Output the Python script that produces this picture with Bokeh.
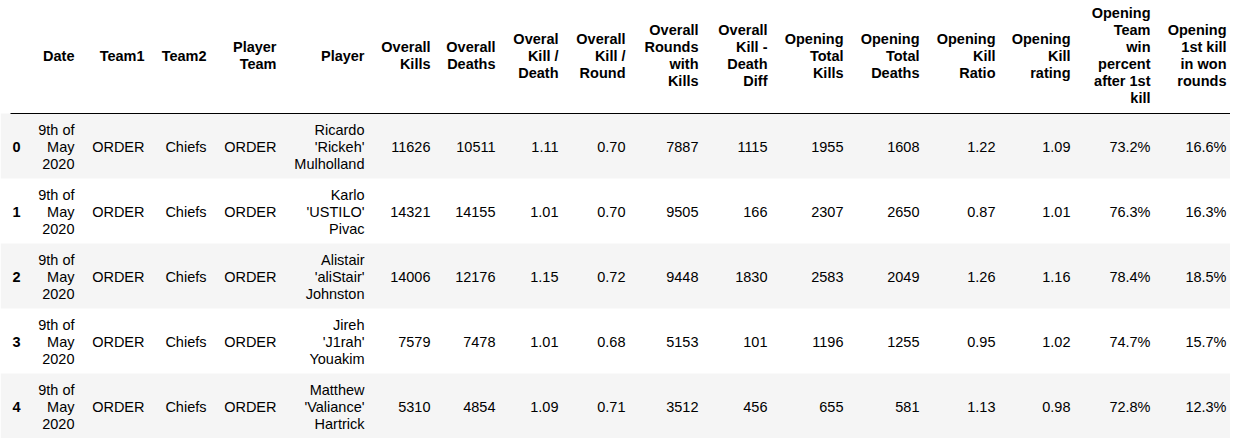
from bokeh.plotting import figure
from bokeh.models import Range1d
from bokeh.core.properties import value
from bokeh.embed import file_html
from bokeh.resources import INLINE

headers = ["Date", "Team1", "Team2", "Player\nTeam", "Player", "Overall\nKills", "Overall\nDeaths",
           "Overal\nKill /\nDeath", "Overall\nKill /\nRound", "Overall\nRounds\nwith\nKills",
           "Overall\nKill -\nDeath\nDiff", "Opening\nTotal\nKills", "Opening\nTotal\nDeaths",
           "Opening\nKill\nRatio", "Opening\nKill\nrating", "Opening\nTeam\nwin\npercent\nafter 1st\nkill",
           "Opening\n1st kill\nin won\nrounds"]

index = ["0", "1", "2", "3", "4"]
date = ["9th of\nMay\n2020"] * 5
team1 = ["ORDER"] * 5
team2 = ["Chiefs"] * 5
player_team = ["ORDER"] * 5
player = ["Ricardo\n'Rickeh'\nMulholland", "Karlo\n'USTILO'\nPivac", "Alistair\n'aliStair'\nJohnston",
          "Jireh\n'J1rah'\nYouakim", "Matthew\n'Valiance'\nHartrick"]
overall_kills = ["11626", "14321", "14006", "7579", "5310"]
overall_deaths = ["10511", "14155", "12176", "7478", "4854"]
kill_death = ["1.11", "1.01", "1.15", "1.01", "1.09"]
kill_round = ["0.70", "0.70", "0.72", "0.68", "0.71"]
rounds_with_kills = ["7887", "9505", "9448", "5153", "3512"]
kd_diff = ["1115", "166", "1830", "101", "456"]
opening_kills = ["1955", "2307", "2583", "1196", "655"]
opening_deaths = ["1608", "2650", "2049", "1255", "581"]
opening_ratio = ["1.22", "0.87", "1.26", "0.95", "1.13"]
opening_rating = ["1.09", "1.01", "1.16", "1.02", "0.98"]
win_percent = ["73.2%", "76.3%", "78.4%", "74.7%", "72.8%"]
first_kill_won = ["16.6%", "16.3%", "18.5%", "15.7%", "12.3%"]

columns = [date, team1, team2, player_team, player, overall_kills, overall_deaths, kill_death,
           kill_round, rounds_with_kills, kd_diff, opening_kills, opening_deaths, opening_ratio,
           opening_rating, win_percent, first_kill_won]

# right edges of the columns, in page pixels
col_right = [74, 144, 206, 276, 364, 430, 495, 558, 625, 698, 767, 843, 919, 995, 1070, 1150, 1226]

W, H = 1230, 438
LINE = 17
HEADER_MID = 55
ROW_TOP = 113
ROW_H = 65

p = figure(width=W, height=H, output_backend="svg", toolbar_location=None,
           x_range=Range1d(0, W), y_range=Range1d(H, 0),
           x_axis_location=None, y_axis_location=None, min_border=0)
p.grid.grid_line_color = None
p.outline_line_color = None
p.background_fill_color = "white"

# striped row backgrounds
for i in range(len(index)):
    if i % 2 == 0:
        top = ROW_TOP + i * ROW_H
        p.quad(left=0, right=W, top=top, bottom=top + ROW_H,
               fill_color="#f5f5f5", line_color=None)

p.segment(x0=[10], y0=[ROW_TOP], x1=[W], y1=[ROW_TOP], line_color="black", line_width=1)


def lines_for(text, xr, ymid):
    parts = text.split("\n")
    y0 = ymid - (len(parts) - 1) * LINE / 2
    return [xr] * len(parts), [y0 + k * LINE for k in range(len(parts))], parts


hx, hy, ht = [], [], []
for h, xr in zip(headers, col_right):
    a, b, c = lines_for(h, xr, HEADER_MID)
    hx += a; hy += b; ht += c

dx, dy, dt = [], [], []
for col, xr in zip(columns, col_right):
    for i, cell in enumerate(col):
        a, b, c = lines_for(cell, xr, ROW_TOP + i * ROW_H + ROW_H / 2 + 1)
        dx += a; dy += b; dt += c

font = value("Liberation Sans")
p.text(x=hx, y=hy, text=ht, text_align="right", text_baseline="middle",
       text_font=font, text_font_size="14.5px", text_font_style="bold", text_color="black")
p.text(x=dx, y=dy, text=dt, text_align="right", text_baseline="middle",
       text_font=font, text_font_size="14.5px", text_color="black")
p.text(x=[12] * len(index), y=[ROW_TOP + i * ROW_H + ROW_H / 2 + 1 for i in range(len(index))],
       text=index, text_align="left", text_baseline="middle",
       text_font=font, text_font_size="14.5px", text_font_style="bold", text_color="black")

open("out.html", "w").write(file_html(p, INLINE))
